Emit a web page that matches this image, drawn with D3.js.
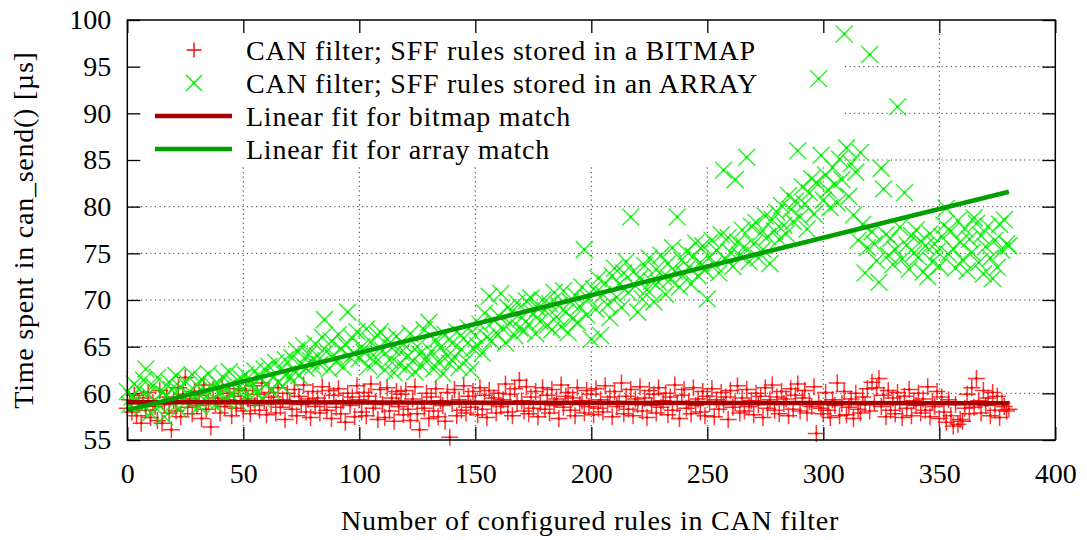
<!DOCTYPE html>
<html>
<head>
<meta charset="utf-8">
<script src="https://cdn.jsdelivr.net/npm/d3@7"></script>
<style>
  html, body { margin: 0; padding: 0; background: #fff; }
  svg { display: block; font-family: "Liberation Serif", "Times New Roman", serif; }
</style>
</head>
<body>
<svg id="chart" width="1087" height="540"></svg>
<script>
// ── Data (index = number of configured rules) ────────────────────────────
const bitmapTimes = [
  58.4, 59.3, 58.0, 59.8, 57.6, 58.9, 56.8, 59.5, 58.2, 60.1,
  57.4, 59.0, 58.6, 57.1, 60.3, 56.8, 58.8, 59.6, 57.9, 56.1,
  59.2, 58.1, 60.6, 57.5, 59.9, 61.7, 58.5, 59.4, 57.8, 60.2,
  58.7, 59.8, 57.3, 60.9, 58.3, 59.1, 56.4, 60.4, 58.9, 59.5,
  57.9, 60.7, 58.6, 59.3, 60.0, 57.6, 59.7, 58.4, 60.5, 59.0,
  58.1, 60.3, 59.4, 57.8, 60.8, 58.7, 59.9, 58.2, 61.1, 59.2,
  57.7, 60.1, 58.9, 59.6, 57.9, 60.6, 58.5, 59.3, 57.2, 60.0,
  59.1, 58.3, 60.4, 57.6, 59.7, 58.8, 60.9, 58.0, 59.4, 57.4,
  60.2, 58.6, 59.5, 57.9, 60.7, 59.0, 58.2, 60.3, 57.3, 59.8,
  58.5, 60.5, 57.8, 59.2, 56.9, 60.0, 58.7, 59.6, 57.5, 60.8,
  59.3, 58.0, 60.1, 57.6, 59.7, 61.0, 58.4, 59.1, 57.2, 60.4,
  58.8, 57.4, 60.6, 58.1, 59.5, 57.0, 60.2, 58.6, 59.9, 57.7,
  60.3, 58.3, 57.1, 59.4, 60.7, 57.8, 56.1, 59.0, 58.4, 60.0,
  57.3, 59.6, 58.1, 60.5, 57.5, 59.2, 58.7, 57.0, 60.1, 55.3,
  58.9, 60.4, 57.6, 59.3, 58.2, 60.8, 57.9, 59.7, 58.5, 60.2,
  59.1, 57.7, 60.6, 58.3, 59.8, 57.4, 60.3, 58.8, 59.5, 57.9,
  60.0, 58.6, 59.3, 61.0, 58.0, 59.9, 57.6, 60.5, 58.9, 61.4,
  59.2, 58.1, 60.7, 57.8, 59.6, 58.4, 60.2, 57.5, 59.0, 60.6,
  58.3, 59.8, 57.9, 60.4, 58.7, 59.4, 57.3, 60.9, 58.5, 59.7,
  60.1, 58.2, 59.5, 57.6, 60.6, 58.8, 59.2, 57.9, 60.3, 58.6,
  59.9, 57.7, 60.5, 58.4, 59.3, 58.0, 60.8, 58.9, 59.6, 57.5,
  60.2, 58.6, 59.0, 61.1, 57.8, 59.7, 58.3, 60.4, 57.6, 59.4,
  58.8, 60.7, 58.1, 59.5, 57.4, 60.3, 58.7, 59.9, 57.9, 60.6,
  58.5, 59.2, 60.0, 57.7, 59.6, 58.2, 60.9, 58.9, 57.3, 59.8,
  60.4, 58.4, 59.1, 57.8, 60.6, 58.7, 59.4, 58.0, 60.2, 57.6,
  59.7, 58.9, 60.5, 57.5, 59.3, 58.3, 60.1, 58.8, 59.6, 57.2,
  60.3, 58.5, 59.0, 60.8, 57.9, 59.5, 58.1, 60.4, 58.6, 59.2,
  57.7, 60.0, 58.8, 59.7, 57.4, 60.6, 58.4, 59.3, 60.9, 58.2,
  59.6, 57.8, 60.2, 58.9, 59.4, 57.6, 60.5, 58.3, 59.8, 61.0,
  58.1, 59.5, 60.3, 57.9, 59.1, 58.6, 60.7, 55.7, 59.0, 58.4,
  57.8, 60.1, 58.2, 57.4, 59.3, 58.7, 61.1, 57.6, 58.9, 60.2,
  57.7, 58.5, 59.4, 57.3, 60.0, 58.3, 57.9, 59.6, 58.8, 60.5,
  58.1, 61.2, 59.0, 60.6, 61.6, 58.6, 59.8, 57.5, 60.3, 58.2,
  59.5, 57.8, 60.1, 58.9, 57.4, 59.7, 58.4, 60.4, 57.6, 59.2,
  58.7, 60.0, 57.9, 59.4, 58.2, 60.7, 57.5, 59.1, 58.6, 60.2,
  57.3, 59.6, 58.0, 56.9, 59.3, 57.6, 56.5, 58.8, 56.7, 57.2,
  57.0, 58.4, 59.9, 57.8, 60.6, 58.5, 61.6, 59.2, 57.9, 60.3,
  58.7, 59.5, 57.6, 60.1, 58.2, 59.7, 57.4, 59.0, 58.6, 58.1,
  58.3,
];

const arrayTimes = [
  60.2, 58.8, 59.6, 61.0, 59.3, 60.5, 58.4, 61.4, 62.6, 59.9,
  57.9, 60.8, 59.2, 61.7, 58.6, 60.1, 57.5, 59.8, 61.2, 60.4,
  59.0, 61.9, 58.3, 60.6, 59.5, 61.3, 60.0, 58.9, 62.0, 59.7,
  60.9, 58.6, 61.5, 59.4, 60.3, 62.1, 59.1, 60.7, 58.8, 61.0,
  60.2, 61.8, 59.3, 60.6, 62.3, 59.8, 61.1, 60.4, 59.0, 61.6,
  60.5, 62.0, 59.6, 61.3, 60.8, 62.4, 60.1, 61.7, 59.4, 62.6,
  61.0, 62.9, 60.3, 61.8, 63.3, 61.2, 62.5, 60.7, 63.6, 62.1,
  61.6, 63.8, 62.4, 64.6, 61.9, 63.2, 65.1, 62.7, 64.2, 63.5,
  62.9, 65.3, 64.0, 63.1, 66.0, 67.9, 64.5, 62.6, 65.6, 64.1,
  63.4, 66.3, 64.8, 62.8, 65.2, 68.7, 63.9, 65.9, 64.3, 66.6,
  63.7, 65.0, 64.4, 66.9, 62.9, 65.5, 64.1, 63.3, 66.2, 66.6,
  64.6, 62.5, 65.8, 63.6, 64.9, 62.2, 66.1, 63.1, 64.4, 65.3,
  62.7, 64.0, 66.4, 63.5, 62.3, 65.0, 64.2, 62.9, 66.8, 63.8,
  67.6, 64.5, 62.6, 65.7, 63.4, 64.9, 62.1, 66.3, 64.0, 63.2,
  65.4, 63.9, 66.6, 62.8, 64.7, 65.9, 63.5, 67.0, 62.5, 64.8,
  66.2, 65.1, 67.4, 64.3, 68.6, 66.0, 70.4, 65.6, 67.8, 66.5,
  68.3, 70.7, 66.9, 65.4, 69.2, 67.5, 68.8, 66.2, 69.7, 67.0,
  68.1, 66.7, 69.9, 67.4, 70.2, 68.5, 66.4, 69.1, 67.7, 70.0,
  68.9, 67.3, 69.6, 66.8, 70.8, 68.2, 69.4, 67.1, 71.0, 68.7,
  66.5, 69.8, 68.0, 70.5, 67.6, 69.3, 71.4, 75.4, 68.4, 70.1,
  65.8, 71.2, 69.0, 72.3, 66.2, 70.6, 71.8, 69.5, 68.1, 72.6,
  73.4, 70.3, 71.7, 69.2, 72.9, 74.1, 70.8, 78.9, 73.0, 71.5,
  68.7, 72.4, 70.1, 73.7, 71.1, 74.5, 72.0, 69.8, 73.3, 71.9,
  74.8, 72.5, 70.6, 73.9, 72.2, 75.6, 73.1, 78.9, 71.4, 74.3,
  72.8, 75.2, 73.5, 71.7, 74.7, 76.1, 72.6, 74.0, 75.8, 73.2,
  70.1, 74.6, 76.4, 73.8, 75.3, 72.9, 77.0, 83.9, 74.4, 76.7,
  75.1, 73.6, 82.9, 76.2, 74.8, 77.5, 75.7, 85.3, 74.1, 77.9,
  76.0, 78.3, 74.5, 77.2, 75.4, 79.0, 76.8, 73.9, 78.6, 77.4,
  79.4, 76.5, 80.1, 78.0, 77.1, 81.2, 79.7, 78.4, 80.6, 86.0,
  78.9, 82.1, 80.3, 77.6, 81.5, 83.0, 79.2, 82.6, 93.7, 85.5,
  80.7, 83.4, 81.8, 79.9, 84.2, 82.4, 80.4, 85.1, 82.9, 98.5,
  86.3, 81.1, 84.6, 79.1, 83.7, 76.4, 85.8, 78.1, 72.9, 75.6,
  96.3, 77.3, 76.0, 74.2, 71.9, 84.1, 81.9, 77.0, 74.8, 76.6,
  73.8, 75.4, 90.7, 77.8, 74.4, 81.5, 75.9, 73.3, 76.9, 75.0,
  77.5, 74.6, 76.3, 73.0, 75.8, 72.5, 77.1, 74.1, 76.0, 75.2,
  73.6, 76.8, 78.0, 79.8, 74.9, 77.4, 75.5, 73.4, 78.5, 76.2,
  74.3, 77.6, 73.1, 76.5, 75.1, 78.8, 78.2, 74.0, 76.9, 72.8,
  75.7, 77.9, 74.5, 72.3, 76.4, 73.5, 78.1, 75.3, 78.6, 76.0,
  75.8,
];

// linear fits: endpoints
const fitRules = [0, 380];
const fitBitmap = [59.05, 58.93];
const fitArray = [58.2, 81.6];

const X_TICKS = [0, 50, 100, 150, 200, 250, 300, 350, 400];
const Y_TICKS = [55, 60, 65, 70, 75, 80, 85, 90, 95, 100];

const LEGEND_LABELS = [
  "CAN filter; SFF rules stored in a BITMAP",
  "CAN filter; SFF rules stored in an ARRAY",
  "Linear fit for bitmap match",
  "Linear fit for array match",
];

const X_TITLE = "Number of configured rules in CAN filter";
const Y_TITLE = "Time spent in can_send() [µs]";

// ── Styles ────────────────────────────────────────────────────────────────
const RED = "#ff0000";
const GREEN = "#00ee00";
const FIT_RED = "#a80000";
const FIT_GREEN = "#00a000";
const FONT_SIZE = 28;
const LETTER_SPACING = "0.75px"; // reference glyphs run a little wider
const TICK = 13;

// ── Layout ────────────────────────────────────────────────────────────────
const svg = d3.select("#chart");
const x = d3.scaleLinear().domain([0, 400]).range([127.3, 1055.3]);
const y = d3.scaleLinear().domain([55, 100]).range([440, 20]);
const [plotLeft, plotRight] = x.range();
const [plotBottom, plotTop] = y.range();

// ── Grid ──────────────────────────────────────────────────────────────────
const grid = svg.append("g").attr("class", "grid")
  .attr("stroke", "#333").attr("stroke-width", 1)
  .attr("stroke-dasharray", "1.2,3.4");

grid.selectAll(".gx")
  .data(X_TICKS.slice(1, -1))
  .join("line")
  .attr("x1", (d) => x(d)).attr("x2", (d) => x(d))
  .attr("y1", plotBottom).attr("y2", plotTop);

grid.selectAll(".gy")
  .data(Y_TICKS.slice(1, -1))
  .join("line")
  .attr("x1", plotLeft).attr("x2", plotRight)
  .attr("y1", (d) => y(d)).attr("y2", (d) => y(d));

// opaque key box hides the grid behind the legend
svg.append("rect")
  .attr("x", plotLeft).attr("y", plotTop)
  .attr("width", 845 - plotLeft).attr("height", 166.5 - plotTop)
  .attr("fill", "#fff");

// ── Axes ──────────────────────────────────────────────────────────────────
function styleAxis(g) {
  g.select(".domain").remove();
  g.selectAll(".tick line").attr("stroke", "#000").attr("stroke-width", 1.3);
  g.selectAll(".tick text")
    .attr("fill", "#000")
    .attr("font-size", FONT_SIZE)
    .attr("font-family", "Liberation Serif, Times New Roman, serif");
}

svg.append("g")
  .attr("transform", `translate(0,${plotBottom})`)
  .call(d3.axisBottom(x).tickValues(X_TICKS).tickSize(-TICK).tickPadding(23))
  .call(styleAxis);

svg.append("g")
  .attr("transform", `translate(0,${plotTop})`)
  .call(d3.axisTop(x).tickValues(X_TICKS).tickSize(-TICK).tickFormat(() => ""))
  .call(styleAxis);

svg.append("g")
  .attr("transform", `translate(${plotLeft},0)`)
  .call(d3.axisLeft(y).tickValues(Y_TICKS).tickSize(-TICK).tickPadding(16))
  .call(styleAxis);

svg.append("g")
  .attr("transform", `translate(${plotRight},0)`)
  .call(d3.axisRight(y).tickValues(Y_TICKS).tickSize(-TICK).tickFormat(() => ""))
  .call(styleAxis);

// ── Markers ───────────────────────────────────────────────────────────────
function plusPath(cx, cy, r) {
  return `M${cx - r},${cy}h${2 * r}M${cx},${cy - r}v${2 * r}`;
}
function crossPath(cx, cy, r) {
  return `M${cx - r},${cy - r}l${2 * r},${2 * r}M${cx - r},${cy + r}l${2 * r},${-2 * r}`;
}

function drawSeries(values, color, shape, cls) {
  const g = svg.append("g").attr("class", cls);
  g.selectAll("path")
    .data(values)
    .join("path")
    .attr("d", (d, i) => shape(x(i), y(d), 8.5))
    .attr("fill", "none")
    .attr("stroke", color)
    .attr("stroke-width", 1.5)
    .attr("stroke-opacity", 0.8);
  g.selectAll("circle")
    .data(values)
    .join("circle")
    .attr("cx", (d, i) => x(i))
    .attr("cy", (d) => y(d))
    .attr("r", 1.4)
    .attr("fill", color);
}

drawSeries(bitmapTimes, RED, plusPath, "bitmap");
drawSeries(arrayTimes, GREEN, crossPath, "array");

// ── Fit lines ─────────────────────────────────────────────────────────────
const fitLine = d3.line().x((d) => x(d[0])).y((d) => y(d[1]));

[[fitBitmap, FIT_RED], [fitArray, FIT_GREEN]].forEach(([vals, color]) => {
  svg.append("path")
    .datum(fitRules.map((r, i) => [r, vals[i]]))
    .attr("d", fitLine)
    .attr("fill", "none")
    .attr("stroke", color)
    .attr("stroke-width", 4.5);
});

// ── Border ────────────────────────────────────────────────────────────────
svg.append("rect")
  .attr("x", plotLeft).attr("y", plotTop)
  .attr("width", plotRight - plotLeft).attr("height", plotBottom - plotTop)
  .attr("fill", "none").attr("stroke", "#000").attr("stroke-width", 1.5);

// ── Legend ────────────────────────────────────────────────────────────────
const legend = svg.append("g").attr("class", "legend");
const rowY = (i) => 50 + i * 33;

legend.append("path")
  .attr("d", plusPath(194, rowY(0), 7.5))
  .attr("stroke", RED).attr("stroke-width", 1.4).attr("fill", "none");
legend.append("path")
  .attr("d", crossPath(194, rowY(1), 8))
  .attr("stroke", GREEN).attr("stroke-width", 1.4).attr("fill", "none");
legend.append("circle").attr("cx", 194).attr("cy", rowY(1)).attr("r", 1.4).attr("fill", GREEN);

[FIT_RED, FIT_GREEN].forEach((c, i) => {
  legend.append("line")
    .attr("x1", 155).attr("x2", 232)
    .attr("y1", rowY(i + 2)).attr("y2", rowY(i + 2))
    .attr("stroke", c).attr("stroke-width", 4.5);
});

legend.selectAll("text")
  .data(LEGEND_LABELS)
  .join("text")
  .attr("x", 246)
  .attr("y", (d, i) => rowY(i) + 9.5)
  .attr("font-size", FONT_SIZE)
  .attr("letter-spacing", LETTER_SPACING)
  .text((d) => d);

// ── Axis titles ───────────────────────────────────────────────────────────
svg.append("text")
  .attr("x", 590).attr("y", 530)
  .attr("text-anchor", "middle")
  .attr("font-size", FONT_SIZE)
  .attr("letter-spacing", LETTER_SPACING)
  .text(X_TITLE);

svg.append("text")
  .attr("transform", `translate(33,${(plotTop + plotBottom) / 2}) rotate(-90)`)
  .attr("text-anchor", "middle")
  .attr("font-size", FONT_SIZE)
  .attr("letter-spacing", LETTER_SPACING)
  .text(Y_TITLE);
</script>
</body>
</html>
